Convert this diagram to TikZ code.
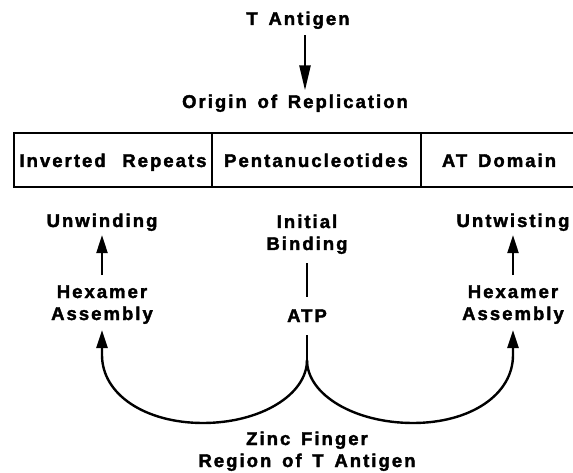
\documentclass[tikz,border=0pt]{standalone}
\usepackage{fontspec}
\setmainfont{Liberation Sans}[BoldFont={Liberation Sans Bold},
    BoldFeatures={FakeBold=2},LetterSpace=11,WordSpace=1.5]
\usetikzlibrary{arrows.meta}

\begin{document}
\begin{tikzpicture}[x=1pt,y=-1pt,
    lbl/.style={font=\bfseries\fontsize{18.5}{22}\selectfont,inner sep=0pt,align=center,anchor=base},
    conn/.style={line width=2.4pt},
    arr/.style={conn,-{Triangle[length=18pt,width=11pt]}}]
    \useasboundingbox (0,0) rectangle (573,473);
    % top: antigen onto the origin
    \node[lbl] (tant) at (298,25) {T Antigen};
    \node[lbl] (orig) at (295,108) {Origin of Replication};
    \draw[arr,-{Triangle[length=25pt,width=11pt]},shorten <=6pt,shorten >=4pt]
        (305,0 |- tant.south) -- (305,0 |- orig.north);
    % the origin, cut off at the right
    \draw[conn] (573,133) -| (14,187) -- (573,187);
    \draw[conn] (212,133) -- (212,187);
    \draw[conn] (421,133) -- (421,187);
    \node[lbl] (inv) at (113,167) {Inverted\hspace{0.9em}Repeats};
    \node[lbl] (pent) at (316,167) {Pentanucleotides};
    \node[lbl] (atd) at (499,167) {AT Domain};
    % functions
    \node[lbl] (unw) at (102,227) {Unwinding};
    \node[lbl] (hexl) at (102,320) {Hexamer\\Assembly};
    \node[lbl] (init) at (307,250) {Initial\\Binding};
    \node[lbl] (atp) at (307,322) {ATP};
    \node[lbl] (untw) at (513,227) {Untwisting};
    \node[lbl] (hexr) at (513,320) {Hexamer\\Assembly};
    \node[lbl] (zinc) at (307,467) {Zinc Finger\\Region of T Antigen};
    \coordinate (cusp) at (307,360);
    \draw[arr,shorten <=10pt,shorten >=4pt] (hexl.north) -- (unw.south);
    \draw[arr,shorten <=10pt,shorten >=4pt] (hexr.north) -- (untw.south);
    \draw[conn,shorten <=9pt,shorten >=12pt] (init.south) -- (atp.north);
    \draw[conn,shorten <=13pt] (atp.south) -- (cusp);
    % zinc finger arcs
    \draw[arr,shorten >=6pt] (cusp) .. controls (307,395) and (260,423) .. (203,423)
        .. controls (146,423) and (102,395) .. (102,355) -- (hexl.south);
    \draw[arr,shorten >=6pt] (cusp) .. controls (307,395) and (355,423) .. (413,423)
        .. controls (470,423) and (513,395) .. (513,355) -- (hexr.south);
\end{tikzpicture}
\end{document}
